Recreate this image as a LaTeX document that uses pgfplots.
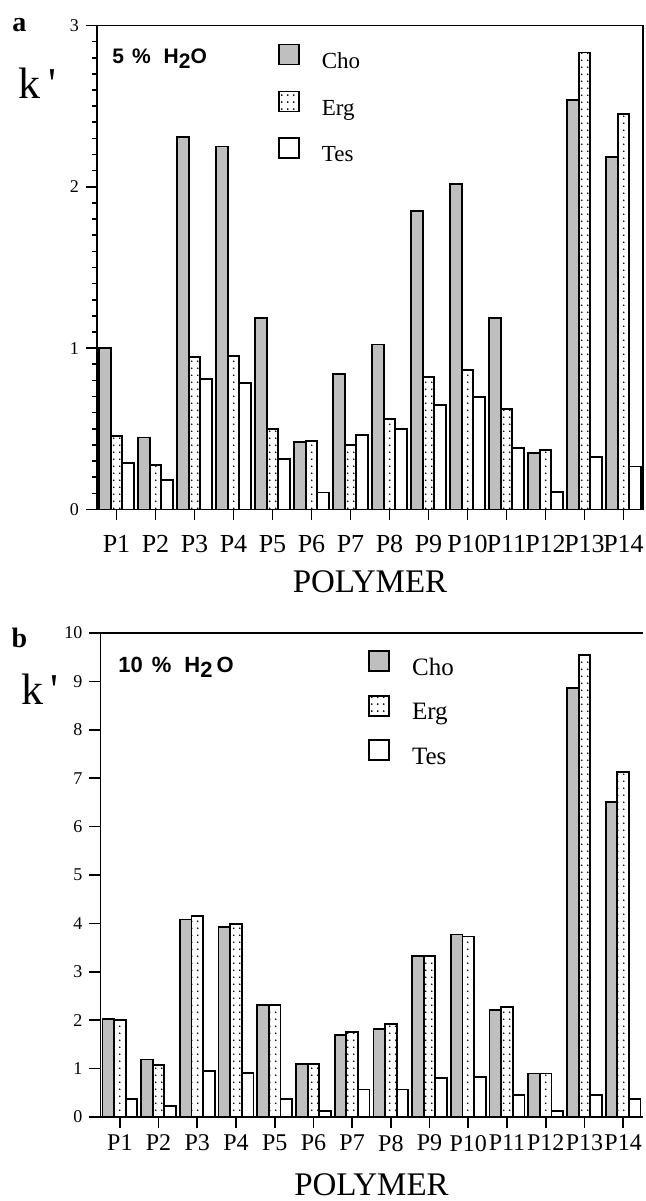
\documentclass[border=0pt]{standalone}
\usepackage{pgfplots}
\pgfplotsset{compat=1.18}
\usepackage{pgfplotstable}
\usetikzlibrary{patterns,patterns.meta}
\usepackage{fontspec}
\setmainfont{Liberation Serif}
\setsansfont{Liberation Sans}

\pgfdeclarepattern{
  name=sparsedots,
  parameters={},
  bottom left={\pgfpoint{-1pt}{-1pt}},
  top right={\pgfpoint{2pt}{2.5pt}},
  tile size={\pgfpoint{3pt}{3.5pt}},
  code={\pgfpathcircle{\pgfpoint{0pt}{0pt}}{0.55pt}\pgfusepath{fill}}
}

\pgfplotstableread{
x cho erg tes
1  1.000 0.457 0.288
2  0.446 0.274 0.185
3  2.310 0.943 0.807
4  2.250 0.953 0.782
5  1.185 0.498 0.313
6  0.416 0.426 0.105
7  0.840 0.400 0.463
8  1.023 0.562 0.498
9  1.848 0.819 0.648
10 2.020 0.864 0.696
11 1.187 0.623 0.383
12 0.350 0.370 0.107
13 2.540 2.833 0.325
14 2.187 2.450 0.267
}\tabA

\pgfplotstableread{
x cho erg tes
1  2.02 2.00 0.37
2  1.19 1.07 0.23
3  4.08 4.16 0.95
4  3.93 3.98 0.915
5  2.31 2.31 0.37
6  1.10 1.10 0.13
7  1.69 1.76 0.57
8  1.81 1.92 0.57
9  3.33 3.33 0.80
10 3.77 3.73 0.83
11 2.21 2.27 0.455
12 0.90 0.90 0.13
13 8.87 9.55 0.455
14 6.51 7.13 0.365
}\tabB

\pgfplotsset{
  panel/.style={
    scale only axis, height=242pt,
    xmin=0.5, xmax=14.5,
    xtick={1,...,14},
    xticklabels={P1,P2,P3,P4,P5,P6,P7,P8,P9,P10,P11,P12,P13,P14},
    xtick pos=left, ytick pos=left,
    tick align=outside,
    major tick length=5.5pt,
    axis line style={line width=0.8pt},
    every tick/.style={black, line width=0.8pt},
    /pgf/number format/assume math mode=true,
    yticklabel style={font=\fontsize{9}{9}\selectfont},
    ybar, bar width=0.3,
    ymin=0,
    legend image code/.code={\draw[##1, line width=0.8pt] (0pt,-1.2pt) rectangle (10pt,8.8pt); \node[inner sep=0pt, minimum size=0pt] at (20pt,3pt) {};},
    legend cell align=left,
  },
  cho/.style={draw=black, line width=0.9pt, fill=gray!50, bar shift=-0.3},
  erg/.style={draw=black, line width=0.9pt, fill=white, postaction={pattern=sparsedots}, bar shift=0},
  tes/.style={draw=black, line width=0.9pt, fill=white, bar shift=0.3},
}

\begin{document}
\begin{tikzpicture}
% top panel (a)
\begin{axis}[panel, name=A, at={(-1.75pt,303.75pt)}, anchor=south west,
  width=273pt, ymax=3, ytick={0,1,2,3},
  extra y ticks={0.1,0.2,0.3,0.4,0.5,0.6,0.7,0.8,0.9,1.1,1.2,1.3,1.4,1.5,1.6,1.7,1.8,1.9,2.1,2.2,2.3,2.4,2.5,2.6,2.7,2.8,2.9},
  extra y tick labels={},
  extra y tick style={major tick length=2.5pt, grid=none},
  xticklabel style={font=\fontsize{13}{13}\selectfont, yshift=-4pt},
  legend style={at={(rel axis cs:0.331,0.963)}, anchor=north west, draw=none, fill=none,
    inner sep=0pt, row sep=8.5pt, font=\fontsize{11.5}{12}\selectfont,
    nodes={inner sep=1pt}},
]
\addplot[cho] table[x=x,y=cho]{\tabA};
\addplot[erg] table[x=x,y=erg]{\tabA};
\addplot[tes] table[x=x,y=tes]{\tabA};
\legend{Cho,Erg,Tes}
\end{axis}

% bottom panel (b)
\begin{axis}[panel, name=B, at={(0pt,0pt)}, anchor=south west,
  width=271pt, ymax=10, ytick={0,1,...,10},
  axis y line*=left,
  xticklabel style={font=\fontsize{12}{12}\selectfont},
  legend style={at={(rel axis cs:0.4935,0.965)}, anchor=north west, draw=none, fill=none,
    inner sep=0pt, row sep=7pt, font=\fontsize{12.5}{13}\selectfont,
    nodes={inner sep=1pt}},
]
\addplot[cho] table[x=x,y=cho]{\tabB};
\addplot[erg] table[x=x,y=erg]{\tabB};
\addplot[tes] table[x=x,y=tes]{\tabB};
\legend{Cho,Erg,Tes}
\end{axis}

% annotations panel a
\node[anchor=base, font=\bfseries\fontsize{14}{14}\selectfont] at ([xshift=-38.75pt,yshift=-3pt]A.north west) {a};
\node[anchor=base, font=\fontsize{22}{22}\selectfont] at ([xshift=-29.75pt,yshift=-36.5pt]A.north west) {k\,\textquotesingle};
\node[anchor=west, inner sep=0pt, font=\sffamily\bfseries\fontsize{10.5}{11}\selectfont] at ([xshift=7.5pt,yshift=-16.5pt]A.north west) {5\hspace{4pt}\%\hspace{6.5pt}H\raisebox{-2.5pt}{2}O};
\node[anchor=base, font=\fontsize{16.5}{17}\selectfont] at ([yshift=-41.5pt]A.south) {POLYMER};

% annotations panel b
\node[anchor=base, font=\bfseries\fontsize{14}{14}\selectfont] at ([xshift=-40.5pt,yshift=-7.5pt]B.north west) {b};
\node[anchor=base, font=\fontsize{22}{22}\selectfont] at ([xshift=-30.25pt,yshift=-36pt]B.north west) {k\,\textquotesingle};
\node[anchor=west, inner sep=0pt, font=\sffamily\bfseries\fontsize{11}{11}\selectfont] at ([xshift=8.75pt,yshift=-17pt]B.north west) {10\hspace{4.5pt}\%\hspace{6.5pt}H\raisebox{-2.5pt}{2}\hspace{2pt}O};
\node[anchor=base, font=\fontsize{16.5}{17}\selectfont] at ([yshift=-39.5pt]B.south) {POLYMER};

\pgfresetboundingbox
\path[use as bounding box] (-50.25pt,-42pt) rectangle (272.25pt,558.5pt);
\end{tikzpicture}
\end{document}
